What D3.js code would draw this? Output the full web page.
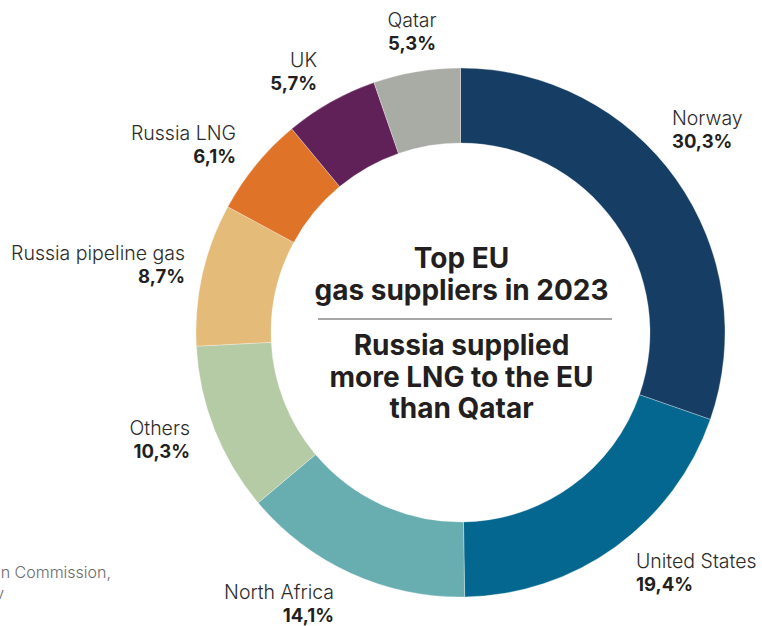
<!DOCTYPE html>
<html>
<head>
<meta charset="utf-8">
<script src="https://cdn.jsdelivr.net/npm/d3@7"></script>
<style>
  html, body { margin: 0; padding: 0; background: #fff; overflow: hidden; }
  svg { display: block; font-family: Inter, Roboto, "Noto Sans", sans-serif; }
</style>
</head>
<body>
<svg id="chart" width="762" height="626"></svg>
<script>
// Supplier shares of EU gas imports, 2023 (%), clockwise from 12 o'clock
const suppliers = ["Norway", "United States", "North Africa", "Others",
                   "Russia pipeline gas", "Russia LNG", "UK", "Qatar"];
const shares = [30.3, 19.4, 14.1, 10.3, 8.7, 6.1, 5.7, 5.3];
const colors = ["#163d63", "#04678f", "#68aeb0", "#b5cba5",
                "#e4bb79", "#df7328", "#5f2157", "#a9aba5"];

// Label placement: anchor point and alignment for each supplier
const labelX = [672, 636, 334, 190, 185, 236, 317, 412];
const labelY = [125, 568, 599, 435, 260, 140, 67, 27];
const labelAnchor = ["start", "start", "end", "end", "end", "end", "end", "middle"];

const titleLines = ["Top EU", "gas suppliers in 2023"];
const subtitleLines = ["Russia supplied", "more LNG to the EU", "than Qatar"];
const sourceLines = ["Source: European Commission,", "Graphic: Euractiv"];

const fmt = v => d3.format(".1f")(v).replace(".", ",") + "%";

const svg = d3.select("#chart");
const cx = 460.5, cy = 332.5, outerR = 264.5, innerR = 189.5;

const data = suppliers.map((name, i) => ({ name, value: shares[i], color: colors[i], i }));

const pie = d3.pie().value(d => d.value).sort(null);
const arc = d3.arc().innerRadius(innerR).outerRadius(outerR);

const g = svg.append("g").attr("transform", `translate(${cx},${cy})`);
g.selectAll("path")
  .data(pie(data))
  .join("path")
  .attr("d", arc)
  .attr("fill", d => d.data.color)
  .attr("stroke", "#ffffff")
  .attr("stroke-opacity", 0.5)
  .attr("stroke-width", 0.6);

// Slice labels: name on top, bold share below
const labels = svg.append("g").selectAll("text")
  .data(data)
  .join("text")
  .attr("x", d => labelX[d.i])
  .attr("y", d => labelY[d.i])
  .attr("text-anchor", d => labelAnchor[d.i]);
labels.append("tspan")
  .attr("x", d => labelX[d.i])
  .attr("font-size", 19.5)
  .attr("font-weight", 300)
  .attr("fill", "#2b2b2b")
  .text(d => d.name);
labels.append("tspan")
  .attr("x", d => labelX[d.i])
  .attr("dy", 23)
  .attr("font-size", 18.5)
  .attr("font-weight", 700)
  .attr("fill", "#231f20")
  .text(d => fmt(d.value));

// Centre title
const tx = 461.5;
svg.append("g").selectAll("text")
  .data(titleLines)
  .join("text")
  .attr("x", tx)
  .attr("y", (d, i) => 268 + i * 32)
  .attr("text-anchor", "middle")
  .attr("font-size", 28)
  .attr("font-weight", 700)
  .attr("fill", "#231f20")
  .text(d => d);

svg.append("line")
  .attr("x1", 318).attr("x2", 612)
  .attr("y1", 319).attr("y2", 319)
  .attr("stroke", "#8a8a8a")
  .attr("stroke-width", 1.5);

svg.append("g").selectAll("text")
  .data(subtitleLines)
  .join("text")
  .attr("x", tx)
  .attr("y", (d, i) => 355 + i * 31.5)
  .attr("text-anchor", "middle")
  .attr("font-size", 28)
  .attr("font-weight", 700)
  .attr("fill", "#231f20")
  .text(d => d);

// Source note, running off the left edge
const src = svg.append("g").attr("fill", "#6b6b6b").attr("font-size", 16).attr("font-weight", 300);
const first = src.append("text").attr("y", 578).text(sourceLines[0]);
const w = first.node().getComputedTextLength();
const sx = 111 - w;
first.attr("x", sx);
src.append("text").attr("x", sx).attr("y", 599).text(sourceLines[1]);
</script>
</body>
</html>
